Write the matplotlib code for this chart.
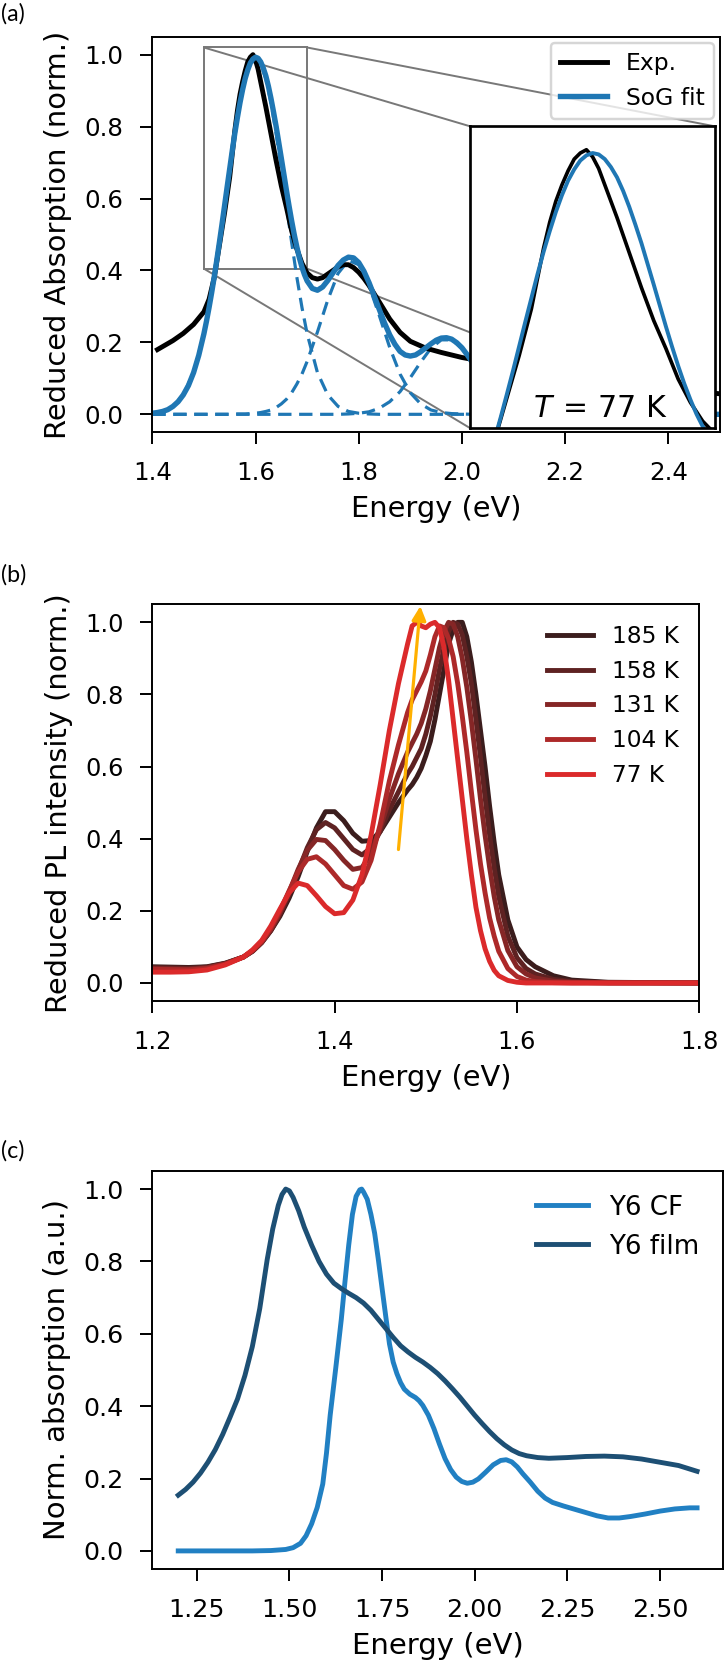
import matplotlib
matplotlib.use("Agg")
import matplotlib.pyplot as plt
from matplotlib.patches import Rectangle, ConnectionPatch

# ---------------- data: panel (a) ----------------
# Gaussian components (dashed), read on a 0.02 eV grid
component_energy = [1.40, 1.42, 1.44, 1.46, 1.48, 1.50,
                    1.51, 1.52, 1.53, 1.54, 1.55, 1.56, 1.57, 1.58, 1.59, 1.60,
                    1.61, 1.62, 1.63, 1.64, 1.65, 1.66, 1.67, 1.68, 1.69, 1.70,
                    1.72, 1.74, 1.76, 1.78, 1.80, 1.82, 1.84, 1.86, 1.88, 1.90,
                    1.92, 1.94, 1.96, 1.98, 2.00, 2.02, 2.04, 2.06, 2.08, 2.10,
                    2.12, 2.14, 2.16, 2.30, 2.50]
gauss_1 = [0.003, 0.008, 0.022, 0.054, 0.116, 0.224,
           0.297, 0.382, 0.478, 0.580, 0.683, 0.781, 0.866, 0.933, 0.975, 0.990,
           0.975, 0.933, 0.866, 0.781, 0.683, 0.580, 0.478, 0.382, 0.297, 0.224,
           0.116, 0.054, 0.022, 0.008, 0.003, 0.001, 0.0, 0.0, 0.0, 0.0,
           0.0, 0.0, 0.0, 0.0, 0.0, 0.0, 0.0, 0.0, 0.0, 0.0,
           0.0, 0.0, 0.0, 0.0, 0.0]
gauss_2 = [0.0, 0.0, 0.0, 0.0, 0.0, 0.0,
           0.0, 0.0, 0.0, 0.0, 0.0, 0.001, 0.001, 0.001, 0.002, 0.003,
           0.005, 0.008, 0.012, 0.019, 0.029, 0.042, 0.060, 0.084, 0.112, 0.147,
           0.229, 0.318, 0.392, 0.428, 0.416, 0.358, 0.274, 0.186, 0.112, 0.060,
           0.029, 0.012, 0.005, 0.002, 0.001, 0.0, 0.0, 0.0, 0.0, 0.0,
           0.0, 0.0, 0.0, 0.0, 0.0]
gauss_3 = [0.0, 0.0, 0.0, 0.0, 0.0, 0.0,
           0.0, 0.0, 0.0, 0.0, 0.0, 0.0, 0.0, 0.0, 0.0, 0.0,
           0.0, 0.0, 0.0, 0.0, 0.0, 0.0, 0.0, 0.0, 0.0, 0.0,
           0.0, 0.0, 0.0, 0.001, 0.003, 0.007, 0.017, 0.035, 0.063, 0.102,
           0.145, 0.184, 0.207, 0.207, 0.184, 0.145, 0.102, 0.063, 0.035, 0.017,
           0.007, 0.003, 0.001, 0.0, 0.0]

# Sum-of-Gaussians fit (solid blue)
fit_energy = [1.40, 1.41, 1.42, 1.43, 1.44, 1.45, 1.46, 1.47, 1.48, 1.49, 1.50,
              1.505, 1.51, 1.515, 1.52, 1.525, 1.53, 1.535, 1.54, 1.545, 1.55,
              1.555, 1.56, 1.565, 1.57, 1.575, 1.58, 1.585, 1.59, 1.595, 1.60,
              1.605, 1.61, 1.615, 1.62, 1.625, 1.63, 1.635, 1.64, 1.645, 1.65,
              1.655, 1.66, 1.665, 1.67, 1.675, 1.68, 1.685, 1.69, 1.695, 1.70,
              1.71, 1.72, 1.73, 1.74, 1.75, 1.76, 1.77, 1.78, 1.79, 1.80,
              1.81, 1.82, 1.83, 1.84, 1.85, 1.86, 1.87, 1.88, 1.89, 1.90,
              1.91, 1.92, 1.93, 1.94, 1.95, 1.96, 1.97, 1.98, 1.99, 2.00,
              2.01, 2.02, 2.03, 2.04, 2.05, 2.06, 2.07, 2.08, 2.09, 2.10,
              2.11, 2.12, 2.13, 2.14, 2.15, 2.16, 2.20, 2.30, 2.50]
sog_fit = [0.003, 0.005, 0.008, 0.013, 0.022, 0.035, 0.054, 0.080, 0.116, 0.164, 0.224,
           0.259, 0.297, 0.338, 0.382, 0.429, 0.478, 0.528, 0.580, 0.632, 0.683,
           0.734, 0.782, 0.826, 0.867, 0.903, 0.934, 0.958, 0.977, 0.988, 0.993,
           0.990, 0.980, 0.963, 0.941, 0.912, 0.878, 0.840, 0.800, 0.756, 0.712,
           0.667, 0.622, 0.579, 0.538, 0.500, 0.466, 0.435, 0.409, 0.388, 0.371,
           0.350, 0.345, 0.354, 0.372, 0.393, 0.414, 0.429, 0.437, 0.435, 0.422,
           0.398, 0.366, 0.329, 0.291, 0.254, 0.221, 0.195, 0.175, 0.165, 0.162,
           0.165, 0.174, 0.185, 0.196, 0.206, 0.212, 0.213, 0.209, 0.199, 0.185,
           0.166, 0.145, 0.123, 0.102, 0.081, 0.063, 0.048, 0.035, 0.025, 0.017,
           0.011, 0.007, 0.005, 0.003, 0.002, 0.001, 0.0, 0.0, 0.0]

# Experimental absorption (black)
exp_energy = [1.41, 1.44, 1.46, 1.48, 1.50,
              1.51, 1.52, 1.53, 1.54, 1.55, 1.56,
              1.565, 1.57, 1.575, 1.58, 1.585, 1.59, 1.595, 1.60, 1.605, 1.61,
              1.62, 1.63, 1.64, 1.65, 1.66, 1.67, 1.68, 1.69, 1.70, 1.71, 1.72,
              1.73, 1.74, 1.75, 1.76, 1.77, 1.78, 1.79, 1.80, 1.81, 1.82,
              1.84, 1.86, 1.88, 1.90,
              1.93, 1.96, 2.00, 2.05, 2.10,
              2.20, 2.30, 2.40, 2.50]
exp_absorption = [0.180, 0.205, 0.225, 0.250, 0.285,
                  0.320, 0.380, 0.470, 0.560, 0.660, 0.790,
                  0.845, 0.890, 0.925, 0.955, 0.980, 0.993, 1.000, 0.985, 0.960, 0.925,
                  0.855, 0.780, 0.705, 0.635, 0.575, 0.510, 0.460, 0.420, 0.393, 0.380, 0.376,
                  0.380, 0.390, 0.400, 0.410, 0.416, 0.416, 0.408, 0.395, 0.378, 0.358,
                  0.312, 0.265, 0.228, 0.203,
                  0.184, 0.172, 0.158, 0.145, 0.132,
                  0.110, 0.090, 0.072, 0.057]

# ---------------- data: panel (b) ----------------
pl_energy = [1.20, 1.22, 1.24, 1.26, 1.28, 1.30, 1.31, 1.32, 1.33,
             1.34, 1.35, 1.36, 1.37, 1.38, 1.39, 1.40, 1.41, 1.42, 1.43, 1.44, 1.45, 1.46, 1.47, 1.48,
             1.485, 1.49, 1.495, 1.50, 1.505, 1.51, 1.515, 1.52, 1.525, 1.53,
             1.535, 1.54, 1.545, 1.55, 1.555, 1.56, 1.565, 1.57, 1.575, 1.58,
             1.59, 1.60, 1.61, 1.62,
             1.64, 1.66, 1.70, 1.80]
pl_185K = [0.045, 0.044, 0.043, 0.045, 0.055, 0.072, 0.088, 0.112, 0.145,
           0.185, 0.235, 0.295, 0.365, 0.430, 0.475, 0.475, 0.450, 0.415, 0.393, 0.395, 0.420, 0.460, 0.500, 0.535,
           0.550, 0.570, 0.595, 0.630, 0.670, 0.730, 0.800, 0.870, 0.940, 0.980,
           1.000, 1.000, 0.960, 0.890, 0.800, 0.700, 0.600, 0.490, 0.390, 0.300,
           0.175, 0.100, 0.065, 0.045,
           0.020, 0.008, 0.002, 0.000]
pl_158K = [0.043, 0.042, 0.041, 0.044, 0.054, 0.072, 0.088, 0.112, 0.145,
           0.190, 0.245, 0.310, 0.375, 0.425, 0.445, 0.430, 0.400, 0.370, 0.355, 0.375, 0.420, 0.480, 0.530, 0.580,
           0.600, 0.625, 0.650, 0.690, 0.740, 0.800, 0.870, 0.930, 0.975, 1.000,
           0.995, 0.965, 0.905, 0.830, 0.730, 0.625, 0.515, 0.410, 0.320, 0.240,
           0.130, 0.070, 0.040, 0.025,
           0.010, 0.004, 0.001, 0.000]
pl_131K = [0.040, 0.039, 0.038, 0.042, 0.053, 0.072, 0.089, 0.113, 0.148,
           0.195, 0.252, 0.315, 0.368, 0.398, 0.395, 0.370, 0.340, 0.315, 0.320, 0.360, 0.430, 0.510, 0.580, 0.640,
           0.665, 0.690, 0.720, 0.760, 0.810, 0.870, 0.930, 0.975, 1.000, 0.995,
           0.960, 0.900, 0.820, 0.725, 0.620, 0.510, 0.410, 0.320, 0.240, 0.175,
           0.090, 0.045, 0.025, 0.014,
           0.005, 0.002, 0.000, 0.000]
pl_104K = [0.038, 0.037, 0.036, 0.040, 0.052, 0.072, 0.090, 0.115, 0.152,
           0.200, 0.255, 0.308, 0.343, 0.350, 0.330, 0.300, 0.270, 0.260, 0.280, 0.340, 0.440, 0.560, 0.660, 0.750,
           0.785, 0.810, 0.835, 0.865, 0.910, 0.960, 0.990, 0.985, 0.955, 0.905,
           0.830, 0.740, 0.640, 0.530, 0.425, 0.330, 0.250, 0.180, 0.130, 0.088,
           0.040, 0.018, 0.008, 0.004,
           0.001, 0.000, 0.000, 0.000]
pl_77K = [0.030, 0.030, 0.031, 0.036, 0.050, 0.072, 0.092, 0.118, 0.158,
          0.205, 0.250, 0.277, 0.270, 0.242, 0.212, 0.192, 0.195, 0.230, 0.300, 0.410, 0.550, 0.700, 0.830, 0.940,
          0.990, 1.000, 0.990, 0.985, 0.995, 1.000, 0.985, 0.930, 0.840, 0.730,
          0.620, 0.510, 0.400, 0.300, 0.210, 0.145, 0.095, 0.060, 0.035, 0.020,
          0.007, 0.002, 0.000, 0.000,
          0.000, 0.000, 0.000, 0.000]
pl_labels = ["185 K", "158 K", "131 K", "104 K", "77 K"]
pl_colors = ["#3b1d1d", "#5e2222", "#852626", "#ad2929", "#db2a2b"]
arrow_start = (1.47, 0.37)
arrow_end = (1.494, 1.045)

# ---------------- data: panel (c) ----------------
film_energy = [1.20, 1.22, 1.24, 1.26, 1.28, 1.30, 1.32, 1.34, 1.36, 1.38, 1.40, 1.42,
               1.44, 1.455, 1.47, 1.48, 1.49, 1.50, 1.51, 1.525, 1.54, 1.56, 1.58, 1.60,
               1.62, 1.64, 1.66, 1.68, 1.70, 1.72, 1.74, 1.76, 1.78, 1.80, 1.82, 1.84,
               1.86, 1.88, 1.90, 1.92, 1.94, 1.96, 1.98, 2.00, 2.02, 2.04, 2.06, 2.08,
               2.10, 2.12, 2.14, 2.17, 2.20, 2.25, 2.30, 2.35, 2.40, 2.45, 2.50, 2.55, 2.60]
film_absorption = [0.154, 0.170, 0.190, 0.215, 0.245, 0.280, 0.322, 0.370, 0.420, 0.485, 0.565, 0.670,
                   0.805, 0.890, 0.955, 0.985, 1.000, 0.995, 0.977, 0.940, 0.895, 0.845, 0.800, 0.765,
                   0.740, 0.725, 0.712, 0.700, 0.685, 0.665, 0.640, 0.615, 0.590, 0.567, 0.550, 0.535,
                   0.522, 0.507, 0.490, 0.470, 0.448, 0.425, 0.400, 0.375, 0.352, 0.330, 0.310, 0.293,
                   0.279, 0.269, 0.263, 0.258, 0.256, 0.258, 0.261, 0.262, 0.260, 0.254, 0.245, 0.236, 0.220]
cf_energy = [1.20, 1.30, 1.40, 1.45, 1.49, 1.51, 1.53, 1.545, 1.56, 1.575, 1.59, 1.60,
             1.61, 1.625, 1.64, 1.65, 1.66, 1.67, 1.68, 1.69, 1.695, 1.70, 1.71, 1.72,
             1.73, 1.74, 1.75, 1.76, 1.77, 1.78, 1.79, 1.80, 1.81, 1.825, 1.84, 1.85,
             1.86, 1.875, 1.89, 1.905, 1.92, 1.935, 1.95, 1.965, 1.98, 1.995, 2.01, 2.03,
             2.05, 2.07, 2.085, 2.10, 2.115, 2.13, 2.15, 2.17, 2.19, 2.21, 2.24, 2.27,
             2.30, 2.33, 2.36, 2.39, 2.42, 2.46, 2.50, 2.54, 2.58, 2.60]
cf_absorption = [0.0, 0.0, 0.0, 0.001, 0.004, 0.009, 0.021, 0.042, 0.075, 0.120, 0.185, 0.270,
                 0.375, 0.505, 0.640, 0.745, 0.845, 0.930, 0.980, 0.998, 1.000, 0.992, 0.972, 0.930,
                 0.878, 0.805, 0.726, 0.648, 0.572, 0.522, 0.490, 0.465, 0.447, 0.433, 0.424, 0.415,
                 0.402, 0.375, 0.338, 0.295, 0.255, 0.225, 0.204, 0.192, 0.187, 0.190, 0.199, 0.218,
                 0.238, 0.250, 0.252, 0.246, 0.232, 0.213, 0.190, 0.165, 0.146, 0.134, 0.124, 0.115,
                 0.106, 0.097, 0.091, 0.091, 0.095, 0.102, 0.110, 0.116, 0.119, 0.119]

# ---------------- styling ----------------
DPI = 176
W, H = 725, 1669
BLUE = "#1f77b4"
plt.rcParams.update({
    "font.family": ["DejaVu Sans"],
    "mathtext.fontset": "dejavusans",
    "xtick.major.size": 4.8, "ytick.major.size": 4.8,
    "xtick.major.width": 0.8, "ytick.major.width": 0.8,
    "xtick.major.pad": 7.0, "ytick.major.pad": 7.0,
    "axes.linewidth": 0.8,
    "lines.solid_joinstyle": "round",
})

fig = plt.figure(figsize=(W / DPI, H / DPI), dpi=DPI)


def box(l, t, r, b):
    return [l / W, 1 - b / H, (r - l) / W, (b - t) / H]


# ---------------- panel (a) ----------------
ax_a = fig.add_axes(box(152.3, 36.7, 720, 432.3))
for g in (gauss_1, gauss_2, gauss_3):
    ax_a.plot(component_energy, g, "--", color=BLUE, lw=1.3, dashes=(4.2, 2.4))
ax_a.plot(exp_energy, exp_absorption, color="black", lw=2.0, label="Exp.")
ax_a.plot(fit_energy, sog_fit, color=BLUE, lw=2.2, label="SoG fit")
ax_a.set_xlim(1.4, 2.5)
ax_a.set_ylim(-0.05, 1.05)
ax_a.set_xticks([1.4, 1.6, 1.8, 2.0, 2.2, 2.4])
ax_a.set_yticks([0.0, 0.2, 0.4, 0.6, 0.8, 1.0])
ax_a.tick_params(labelsize=10)
ax_a.set_xlabel("Energy (eV)", fontsize=11.8)
ax_a.set_ylabel("Reduced Absorption (norm.)", fontsize=11.8, labelpad=5)
ax_a.legend(loc="upper right", fontsize=9.6, borderaxespad=0.25)

axins = ax_a.inset_axes([0.56, 0.0104, 0.431, 0.763])
axins.plot(exp_energy, exp_absorption, color="black", lw=1.5)
axins.plot(fit_energy, sog_fit, color=BLUE, lw=1.6)
axins.set_xlim(1.5, 1.7)
axins.set_ylim(0.405, 1.05)
axins.set_xticks([])
axins.set_yticks([])
for s in axins.spines.values():
    s.set_linewidth(1.1)
axins.text(0.53, 0.018, r"$T\,=\,77$ K", transform=axins.transAxes,
           ha="center", va="bottom", fontsize=12.3)

GRAY = "0.47"
ax_a.add_patch(Rectangle((1.5, 0.405), 0.2, 0.615, fill=False,
                         ec=GRAY, lw=0.8, zorder=1))
for (xa, ya), (xb, yb) in [((1.5, 1.02), (0, 1)), ((1.7, 1.02), (1, 1)),
                           ((1.5, 0.405), (0, 0)), ((1.7, 0.405), (1, 0))]:
    con = ConnectionPatch(xyA=(xa, ya), coordsA=ax_a.transData,
                          xyB=(xb, yb), coordsB=axins.transAxes,
                          color=GRAY, lw=0.8, zorder=1)
    ax_a.add_artist(con)

# ---------------- panel (b) ----------------
ax_b = fig.add_axes(box(152.3, 604.3, 699.3, 1001))
for ys, lab, col in zip([pl_185K, pl_158K, pl_131K, pl_104K, pl_77K], pl_labels, pl_colors):
    ax_b.plot(pl_energy, ys, color=col, lw=2.0, label=lab)
ax_b.annotate("", xy=arrow_end, xytext=arrow_start,
              arrowprops=dict(arrowstyle="-|>", color="#ffb000", lw=1.3,
                              mutation_scale=12, shrinkA=0, shrinkB=0))
ax_b.set_xlim(1.2, 1.8)
ax_b.set_ylim(-0.05, 1.05)
ax_b.set_xticks([1.2, 1.4, 1.6, 1.8])
ax_b.set_yticks([0.0, 0.2, 0.4, 0.6, 0.8, 1.0])
ax_b.tick_params(labelsize=9.85)
ax_b.set_xlabel("Energy (eV)", fontsize=11.8)
ax_b.set_ylabel("Reduced PL intensity (norm.)", fontsize=11.8, labelpad=5)
ax_b.legend(loc="upper right", fontsize=9.5, frameon=False)

# ---------------- panel (c) ----------------
ax_c = fig.add_axes(box(152.3, 1171, 723, 1569))
ax_c.plot(cf_energy, cf_absorption, color="#2180c3", lw=2.0, label="Y6 CF")
ax_c.plot(film_energy, film_absorption, color="#1d4f74", lw=2.0, label="Y6 film")
ax_c.set_ylim(-0.05, 1.05)
ax_c.set_xticks([1.25, 1.50, 1.75, 2.00, 2.25, 2.50])
ax_c.set_yticks([0.0, 0.2, 0.4, 0.6, 0.8, 1.0])
ax_c.tick_params(labelsize=10.4)
ax_c.set_xlabel("Energy (eV)", fontsize=11.9)
ax_c.set_ylabel("Norm. absorption (a.u.)", fontsize=11.9, labelpad=5)
ax_c.legend(loc="upper right", fontsize=10.7, frameon=False)

# ---------------- panel letters ----------------
for lab, yc in [("(a)", 14), ("(b)", 575), ("(c)", 1151)]:
    fig.text(0.002, 1 - yc / H, lab, fontsize=9.5, family=["Lato", "DejaVu Sans"],
             ha="left", va="center")

fig.savefig("out.png", dpi=DPI)
